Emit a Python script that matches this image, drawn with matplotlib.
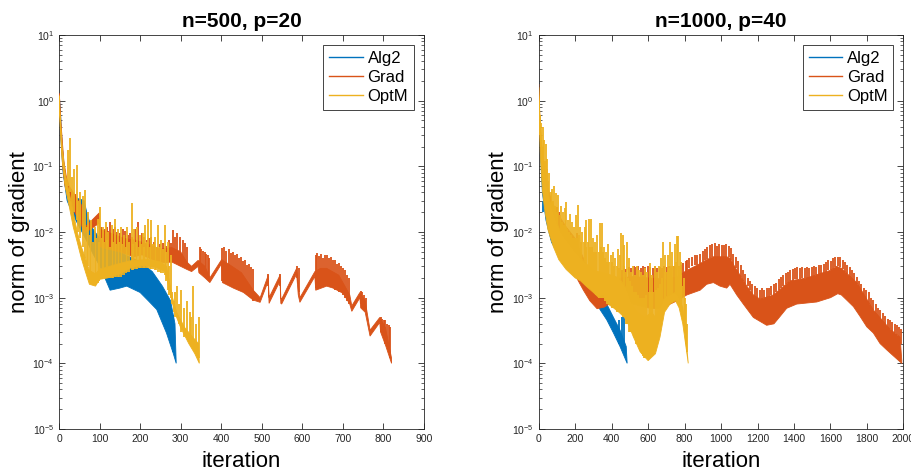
import numpy as np
import matplotlib.pyplot as plt
from matplotlib.lines import Line2D

plt.rcParams['font.family'] = ['Liberation Sans', 'DejaVu Sans']
plt.rcParams['mathtext.fontset'] = 'custom'
plt.rcParams['mathtext.rm'] = 'Liberation Sans'
plt.rcParams['mathtext.it'] = 'Liberation Sans:italic'

COLORS = {'Alg2': '#0072BD', 'Grad': '#D95319', 'OptM': '#EDB120'}
AX_COLOR = '#262626'

methods = ['Alg2', 'Grad', 'OptM']
titles = ['n=500, p=20', 'n=1000, p=40']
x_max = [900, 2000]
x_step = [100, 200]

# Each trace: upper and lower edge of the dense oscillation band as (iteration, value),
# plus the visible spikes as (iteration, low, high).

# ---- n=500, p=20 ----
alg2_a_top = [(0, 1.3), (3, 0.8), (8, 0.2), (15, 0.07), (25, 0.04), (35, 0.033), (50, 0.032),
              (62, 0.03), (70, 0.018), (80, 0.012), (100, 0.008), (120, 0.0062), (160, 0.0046),
              (200, 0.0035), (230, 0.0025), (255, 0.0015), (275, 0.0009), (286, 0.0004), (289, 0.0001)]
alg2_a_bot = [(0, 1.0), (4, 0.3), (10, 0.08), (20, 0.03), (35, 0.018), (50, 0.012), (70, 0.007),
              (85, 0.0045), (101, 0.003), (126, 0.0013), (150, 0.0014), (167, 0.0015), (200, 0.0012),
              (220, 0.0009), (241, 0.00066), (265, 0.00029), (282, 0.00014), (289, 0.0001)]
alg2_a_spk = [(52, 0.02, 0.03), (58, 0.02, 0.029), (64, 0.015, 0.025), (282, 0.00015, 0.00054)]

grad_a_top = [(0, 1.3), (2, 1.0), (5, 0.45), (8, 0.25), (12, 0.12), (18, 0.07), (25, 0.05),
              (35, 0.04), (45, 0.032), (55, 0.026), (60, 0.02), (62, 0.0115), (99, 0.0195),
              (101, 0.011), (130, 0.0095), (160, 0.008), (190, 0.0075), (220, 0.0065), (250, 0.0055),
              (278, 0.0058), (300, 0.005), (315, 0.0035), (327, 0.003), (343, 0.0037), (360, 0.003),
              (372, 0.002), (401, 0.0038), (420, 0.0032), (450, 0.0024), (479, 0.0013), (496, 0.001),
              (516, 0.0022), (518, 0.001), (545, 0.0022), (547, 0.001), (549, 0.00095), (586, 0.0028),
              (594, 0.001), (631, 0.0025), (645, 0.0028), (660, 0.0028), (690, 0.0022), (717, 0.0011),
              (722, 0.00075), (742, 0.0012), (755, 0.0009), (767, 0.00032), (791, 0.0005),
              (805, 0.00035), (820, 0.00012)]
grad_a_bot = [(0, 1.0), (3, 0.5), (6, 0.2), (10, 0.09), (15, 0.05), (25, 0.03), (35, 0.022),
              (45, 0.017), (55, 0.013), (62, 0.0095), (99, 0.0136), (101, 0.006), (120, 0.0055),
              (150, 0.005), (183, 0.0042), (205, 0.0045), (230, 0.0038), (260, 0.0034), (278, 0.0035),
              (300, 0.003), (315, 0.0027), (327, 0.0025), (343, 0.003), (345, 0.0024), (360, 0.002),
              (372, 0.0017), (401, 0.0033), (403, 0.0017), (430, 0.0014), (455, 0.0012), (479, 0.00092),
              (496, 0.00085), (516, 0.0018), (518, 0.00082), (545, 0.0018), (547, 0.00082),
              (549, 0.0008), (586, 0.0023), (590, 0.0011), (594, 0.00085), (631, 0.0021), (633, 0.0013),
              (660, 0.0015), (676, 0.0014), (701, 0.00116), (717, 0.0008), (722, 0.00062), (742, 0.001),
              (744, 0.0007), (755, 0.0006), (767, 0.00026), (791, 0.00042), (793, 0.0003),
              (805, 0.00019), (820, 0.0001)]
grad_a_spk = [(30, 0.025, 0.045), (40, 0.02, 0.038), (52, 0.015, 0.028),
              (104, 0.007, 0.012), (109, 0.007, 0.0105), (114, 0.0065, 0.011), (118, 0.0065, 0.012),
              (122, 0.006, 0.0105), (126, 0.006, 0.014), (132, 0.0058, 0.011), (138, 0.0055, 0.012),
              (144, 0.0053, 0.01), (150, 0.0052, 0.0095), (157, 0.005, 0.011), (163, 0.005, 0.0105),
              (169, 0.0048, 0.009), (175, 0.0045, 0.0095), (181, 0.0044, 0.0085), (187, 0.0043, 0.011),
              (196, 0.0045, 0.014), (204, 0.0045, 0.0095), (210, 0.0044, 0.0085), (216, 0.0042, 0.0075),
              (222, 0.0041, 0.008), (228, 0.004, 0.0085), (235, 0.0038, 0.007), (241, 0.0037, 0.006),
              (249, 0.0036, 0.0065), (257, 0.0035, 0.0067), (264, 0.0035, 0.0062), (270, 0.0036, 0.0075),
              (276, 0.0035, 0.0068), (282, 0.0035, 0.0107), (287, 0.0034, 0.0085), (292, 0.0033, 0.0095),
              (298, 0.003, 0.0085), (305, 0.0029, 0.0075), (311, 0.0028, 0.0067), (316, 0.0027, 0.006),
              (347, 0.0025, 0.0059), (351, 0.0024, 0.0055), (355, 0.0023, 0.0052), (359, 0.0022, 0.005),
              (363, 0.0021, 0.0047), (367, 0.002, 0.0045), (371, 0.0018, 0.004),
              (403, 0.0018, 0.0058), (408, 0.0018, 0.006), (413, 0.0017, 0.0052), (418, 0.0016, 0.0055),
              (423, 0.0015, 0.0048), (428, 0.0015, 0.005), (433, 0.0014, 0.0044), (438, 0.0014, 0.0046),
              (443, 0.0013, 0.004), (448, 0.0013, 0.0042), (453, 0.0012, 0.0036), (458, 0.0012, 0.0038),
              (463, 0.0011, 0.0032), (468, 0.0011, 0.0033), (473, 0.001, 0.0029), (478, 0.0009, 0.0027),
              (516, 0.0015, 0.0023), (545, 0.0015, 0.0023), (586, 0.002, 0.003), (591, 0.0012, 0.0028),
              (633, 0.0014, 0.0044), (637, 0.0014, 0.0048), (641, 0.0014, 0.0043), (645, 0.0015, 0.0046),
              (650, 0.0015, 0.004), (655, 0.0015, 0.0044), (660, 0.0015, 0.0045), (665, 0.0015, 0.004),
              (670, 0.0015, 0.0042), (675, 0.0014, 0.0037), (680, 0.0013, 0.0038), (685, 0.0013, 0.0033),
              (690, 0.0012, 0.0034), (695, 0.0012, 0.003), (700, 0.0011, 0.0028), (705, 0.001, 0.0026),
              (710, 0.0009, 0.0022), (715, 0.0008, 0.002),
              (744, 0.0008, 0.00125), (748, 0.0008, 0.0012), (752, 0.0007, 0.0011), (756, 0.0006, 0.001),
              (793, 0.0003, 0.0005), (797, 0.0003, 0.00048), (801, 0.00025, 0.00046),
              (805, 0.0002, 0.00045), (809, 0.00018, 0.0004), (813, 0.00015, 0.00038),
              (817, 0.00012, 0.00036)]

opt_a_top = [(0, 1.2), (3, 0.6), (8, 0.2), (15, 0.08), (25, 0.04), (35, 0.02), (45, 0.01),
             (55, 0.006), (65, 0.004), (75, 0.0026), (90, 0.0023), (100, 0.0027), (140, 0.0032),
             (180, 0.0037), (220, 0.0038), (250, 0.0035), (265, 0.003), (280, 0.001), (290, 0.0006),
             (310, 0.00035), (330, 0.00025), (344, 0.0002), (346, 0.0001)]
opt_a_bot = [(0, 0.9), (4, 0.3), (8, 0.12), (15, 0.05), (25, 0.025), (35, 0.012), (45, 0.007),
             (55, 0.004), (65, 0.0025), (75, 0.0016), (90, 0.0015), (100, 0.0019), (120, 0.002),
             (150, 0.0023), (180, 0.0029), (210, 0.0031), (240, 0.0029), (262, 0.0025), (275, 0.0011),
             (285, 0.0006), (300, 0.00035), (320, 0.0002), (335, 0.00014), (346, 0.0001)]
opt_a_spk = [(21, 0.05, 0.18), (27, 0.04, 0.27), (32, 0.02, 0.07), (37, 0.02, 0.09), (44, 0.015, 0.105),
             (48, 0.01, 0.03), (52, 0.008, 0.04), (58, 0.006, 0.035), (64, 0.004, 0.043),
             (68, 0.003, 0.012), (72, 0.003, 0.02), (76, 0.0017, 0.009), (80, 0.0016, 0.015),
             (84, 0.0016, 0.007), (88, 0.0016, 0.012), (92, 0.0016, 0.008), (95, 0.0017, 0.016),
             (98, 0.0018, 0.007), (101, 0.0019, 0.024), (105, 0.0019, 0.008), (108, 0.002, 0.012),
             (112, 0.002, 0.007), (115, 0.002, 0.014), (119, 0.002, 0.0075), (122, 0.002, 0.01),
             (126, 0.002, 0.006), (130, 0.002, 0.013), (134, 0.002, 0.007), (137, 0.0021, 0.016),
             (141, 0.0021, 0.0065), (145, 0.0021, 0.011), (149, 0.0021, 0.007), (152, 0.0021, 0.012),
             (156, 0.0022, 0.0065), (160, 0.0022, 0.009), (164, 0.0024, 0.006), (168, 0.0025, 0.012),
             (173, 0.0025, 0.007), (179, 0.0026, 0.028), (183, 0.0026, 0.0065), (186, 0.0027, 0.011),
             (190, 0.0027, 0.007), (193, 0.0027, 0.012), (197, 0.0028, 0.006), (200, 0.0028, 0.009),
             (203, 0.0028, 0.0065), (206, 0.0028, 0.0095), (209, 0.0028, 0.006), (212, 0.0028, 0.013),
             (216, 0.0028, 0.007), (220, 0.0028, 0.016), (224, 0.0027, 0.006), (228, 0.0027, 0.0152),
             (232, 0.0027, 0.0065), (236, 0.0026, 0.0085), (240, 0.0026, 0.006), (245, 0.0025, 0.013),
             (249, 0.0025, 0.006), (252, 0.0024, 0.0075), (256, 0.0024, 0.0055), (261, 0.0022, 0.013),
             (265, 0.0018, 0.005), (268, 0.0013, 0.007), (272, 0.0011, 0.003), (275, 0.001, 0.0045),
             (279, 0.0008, 0.0012), (283, 0.0006, 0.0009), (287, 0.0005, 0.0012), (290, 0.0005, 0.0015),
             (296, 0.0004, 0.0008), (302, 0.0003, 0.0013), (309, 0.00025, 0.0007), (315, 0.00025, 0.0009),
             (322, 0.0002, 0.0006), (326, 0.0002, 0.0005), (331, 0.00018, 0.0015), (338, 0.00015, 0.0004),
             (344, 0.00012, 0.0005)]

# ---- n=1000, p=40 ----
alg2_b_top = [(0, 1.9), (3, 0.9), (8, 0.3), (15, 0.1), (26, 0.04), (50, 0.015), (80, 0.009),
              (120, 0.006), (160, 0.004), (200, 0.003), (250, 0.0025), (300, 0.0018), (336, 0.0012),
              (373, 0.0008), (410, 0.0005), (446, 0.00032), (480, 0.00018), (485, 0.0001)]
alg2_b_bot = [(0, 1.3), (5, 0.4), (10, 0.15), (20, 0.04), (40, 0.015), (70, 0.007), (100, 0.005),
              (150, 0.003), (200, 0.0022), (250, 0.0016), (300, 0.00105), (336, 0.00066),
              (373, 0.00046), (410, 0.00029), (446, 0.00018), (485, 0.0001)]
alg2_b_spk = [(26, 0.02, 0.03), (320, 0.0009, 0.0016), (440, 0.0002, 0.00045),
              (455, 0.0002, 0.0005), (465, 0.0002, 0.00077)]

grad_b_top = [(0, 1.8), (3, 0.9), (10, 0.35), (20, 0.15), (40, 0.06), (70, 0.03), (100, 0.02),
              (150, 0.012), (200, 0.008), (245, 0.004), (280, 0.0022), (320, 0.0013), (360, 0.0015),
              (400, 0.0018), (450, 0.002), (520, 0.0021), (600, 0.002), (700, 0.0019), (760, 0.0021),
              (812, 0.0026), (885, 0.0033), (921, 0.0038), (958, 0.0042), (1031, 0.0042),
              (1049, 0.004), (1068, 0.0032), (1104, 0.0022), (1141, 0.0015), (1177, 0.0011),
              (1214, 0.00095), (1287, 0.0011), (1378, 0.0018), (1470, 0.002), (1598, 0.0026),
              (1634, 0.003), (1660, 0.0028), (1744, 0.0017), (1835, 0.00065), (1927, 0.00033),
              (1982, 0.00025), (1991, 0.00011)]
grad_b_bot = [(0, 1.5), (3, 0.6), (10, 0.2), (20, 0.08), (40, 0.03), (70, 0.012), (100, 0.007),
              (150, 0.004), (200, 0.0022), (245, 0.0013), (280, 0.0009), (320, 0.00068),
              (360, 0.00072), (400, 0.00085), (450, 0.00085), (520, 0.0008), (600, 0.0007),
              (650, 0.00068), (700, 0.00075), (760, 0.0009), (812, 0.0011), (885, 0.0013),
              (921, 0.0016), (958, 0.0017), (994, 0.0015), (1031, 0.0014), (1049, 0.0016),
              (1086, 0.0011), (1122, 0.0008), (1177, 0.0005), (1250, 0.00038), (1290, 0.0004),
              (1324, 0.00052), (1360, 0.00069), (1415, 0.0008), (1525, 0.00086), (1600, 0.001),
              (1640, 0.00115), (1660, 0.0011), (1689, 0.00092), (1726, 0.00073), (1762, 0.00052),
              (1799, 0.00036), (1835, 0.00029), (1872, 0.0002), (1909, 0.00016), (1945, 0.00013),
              (1991, 0.0001)]
grad_b_spk = [(100, 0.008, 0.024), (110, 0.007, 0.02), (208, 0.003, 0.0095), (215, 0.003, 0.008),
              (455, 0.0019, 0.0026), (468, 0.0019, 0.0028), (481, 0.0019, 0.0027), (494, 0.0019, 0.0029),
              (507, 0.002, 0.0028), (520, 0.002, 0.003), (533, 0.002, 0.0029), (546, 0.002, 0.003),
              (559, 0.002, 0.0028), (572, 0.002, 0.003), (585, 0.002, 0.0029), (598, 0.002, 0.003),
              (611, 0.002, 0.0029), (624, 0.0019, 0.0028), (637, 0.0019, 0.003), (650, 0.0019, 0.0028),
              (663, 0.0019, 0.0029), (676, 0.0019, 0.0028), (689, 0.0019, 0.003), (702, 0.0019, 0.0029),
              (715, 0.002, 0.003), (728, 0.002, 0.0028), (741, 0.002, 0.003), (754, 0.002, 0.0029),
              (767, 0.0021, 0.003), (780, 0.0021, 0.0032), (793, 0.0022, 0.0034), (805, 0.0024, 0.0036),
              (812, 0.0026, 0.0038), (826, 0.0028, 0.004), (840, 0.003, 0.0042), (855, 0.0031, 0.0044),
              (870, 0.0032, 0.0045), (885, 0.0033, 0.0047), (899, 0.0035, 0.0052), (912, 0.0037, 0.0056),
              (925, 0.0039, 0.006), (938, 0.004, 0.0064), (951, 0.0041, 0.0066), (964, 0.0042, 0.0068),
              (977, 0.0042, 0.0062), (990, 0.0042, 0.0066), (1003, 0.0042, 0.0064), (1016, 0.0042, 0.0063),
              (1029, 0.0042, 0.0066), (1042, 0.0041, 0.0062), (1055, 0.0038, 0.0058), (1068, 0.0032, 0.0047),
              (1081, 0.0028, 0.0042), (1094, 0.0024, 0.0036), (1107, 0.0021, 0.0031), (1120, 0.0018, 0.0026),
              (1133, 0.0016, 0.0023), (1146, 0.0015, 0.002), (1159, 0.0013, 0.0018), (1172, 0.0011, 0.0016),
              (1185, 0.001, 0.0015), (1198, 0.001, 0.0014), (1211, 0.00095, 0.0013), (1224, 0.00095, 0.0014),
              (1237, 0.001, 0.0013), (1250, 0.001, 0.0014), (1263, 0.001, 0.0014), (1276, 0.0011, 0.0015),
              (1289, 0.0011, 0.0016), (1302, 0.0012, 0.0017), (1315, 0.0013, 0.0019), (1328, 0.0014, 0.0021),
              (1341, 0.0015, 0.0022), (1354, 0.0016, 0.0024), (1367, 0.0017, 0.0025), (1380, 0.0018, 0.0026),
              (1393, 0.0018, 0.0027), (1406, 0.0019, 0.0028), (1419, 0.0019, 0.0029), (1432, 0.0019, 0.0028),
              (1445, 0.002, 0.0029), (1458, 0.002, 0.0028), (1471, 0.002, 0.0029), (1484, 0.002, 0.0028),
              (1497, 0.0021, 0.0029), (1510, 0.0021, 0.003), (1523, 0.0022, 0.0029), (1536, 0.0022, 0.0031),
              (1549, 0.0023, 0.0032), (1562, 0.0024, 0.0033), (1575, 0.0025, 0.0035), (1588, 0.0026, 0.0037),
              (1601, 0.0026, 0.0036), (1614, 0.0027, 0.004), (1627, 0.0029, 0.0042), (1640, 0.003, 0.0041),
              (1653, 0.0029, 0.0042), (1666, 0.0027, 0.0038), (1679, 0.0025, 0.0035), (1692, 0.0023, 0.0032),
              (1705, 0.0021, 0.0029), (1718, 0.0019, 0.0026), (1731, 0.0017, 0.0024), (1744, 0.0016, 0.0021),
              (1757, 0.0014, 0.0018), (1770, 0.0012, 0.0016), (1783, 0.001, 0.0014), (1796, 0.0009, 0.0013),
              (1809, 0.0008, 0.0012), (1822, 0.0007, 0.001), (1835, 0.00065, 0.00092), (1848, 0.00057, 0.0008),
              (1861, 0.0005, 0.0007), (1874, 0.00045, 0.00065), (1887, 0.0004, 0.00058), (1900, 0.00037, 0.00052),
              (1913, 0.00035, 0.00048), (1926, 0.00033, 0.00046), (1939, 0.0003, 0.00042), (1952, 0.00029, 0.0004),
              (1965, 0.00027, 0.00038), (1978, 0.00025, 0.00036), (1988, 0.0002, 0.00033)]

opt_b_top = [(0, 1.6), (3, 1.0), (8, 0.5), (15, 0.25), (25, 0.12), (40, 0.06), (60, 0.03),
             (90, 0.016), (120, 0.01), (160, 0.007), (200, 0.005), (250, 0.0035), (300, 0.0026),
             (350, 0.0024), (400, 0.0022), (440, 0.002), (480, 0.0014), (510, 0.0008), (540, 0.0006),
             (580, 0.0005), (620, 0.0006), (640, 0.0005), (665, 0.0007), (690, 0.001), (720, 0.0011),
             (750, 0.0012), (770, 0.001), (790, 0.0007), (805, 0.0003), (820, 0.0001)]
opt_b_bot = [(0, 1.0), (5, 0.35), (10, 0.13), (20, 0.045), (30, 0.025), (50, 0.011), (80, 0.006),
             (110, 0.0038), (150, 0.0027), (200, 0.002), (230, 0.0018), (260, 0.0015), (300, 0.0012),
             (330, 0.001), (350, 0.0011), (380, 0.0008), (410, 0.0007), (440, 0.0006), (470, 0.0005),
             (490, 0.0004), (520, 0.00025), (556, 0.00015), (600, 0.00011), (640, 0.00014),
             (665, 0.00025), (690, 0.0006), (720, 0.0008), (750, 0.0009), (770, 0.0007), (790, 0.0004),
             (805, 0.0002), (820, 0.0001)]
opt_b_spk = [(8, 0.3, 0.6), (14, 0.2, 0.45), (22, 0.12, 0.4), (26, 0.08, 0.2), (30, 0.08, 0.25),
             (34, 0.05, 0.12), (38, 0.05, 0.22), (43, 0.04, 0.09), (48, 0.03, 0.13), (53, 0.025, 0.06),
             (58, 0.025, 0.08), (65, 0.018, 0.04), (72, 0.015, 0.046), (77, 0.013, 0.03), (82, 0.012, 0.05),
             (88, 0.01, 0.025), (95, 0.009, 0.039), (101, 0.008, 0.02), (108, 0.007, 0.036),
             (114, 0.006, 0.018), (120, 0.006, 0.025), (126, 0.005, 0.014), (132, 0.005, 0.02),
             (138, 0.0045, 0.013), (144, 0.0045, 0.023), (148, 0.004, 0.012), (152, 0.004, 0.029),
             (157, 0.004, 0.011), (162, 0.0035, 0.015), (167, 0.0035, 0.01), (172, 0.0035, 0.019),
             (178, 0.003, 0.009), (185, 0.003, 0.014), (190, 0.003, 0.008), (195, 0.0028, 0.012),
             (200, 0.0027, 0.008), (205, 0.0026, 0.018), (211, 0.0025, 0.008), (218, 0.0025, 0.026),
             (223, 0.0024, 0.009), (228, 0.0023, 0.012), (234, 0.0022, 0.007), (240, 0.0021, 0.01),
             (247, 0.002, 0.007), (254, 0.002, 0.012), (258, 0.0019, 0.006), (262, 0.0018, 0.015),
             (268, 0.0017, 0.007), (275, 0.0016, 0.016), (281, 0.0015, 0.006), (287, 0.0015, 0.016),
             (292, 0.0014, 0.006), (298, 0.0013, 0.008), (304, 0.0012, 0.005), (310, 0.0012, 0.007),
             (316, 0.0011, 0.005), (322, 0.0011, 0.009), (329, 0.001, 0.005), (336, 0.001, 0.0137),
             (340, 0.001, 0.006), (345, 0.001, 0.0137), (350, 0.001, 0.005), (356, 0.001, 0.006),
             (362, 0.0009, 0.004), (368, 0.0009, 0.005), (375, 0.0008, 0.0035), (382, 0.0008, 0.0066),
             (388, 0.0008, 0.0035), (395, 0.0008, 0.0045), (402, 0.0007, 0.0035), (408, 0.0007, 0.005),
             (414, 0.0007, 0.003), (420, 0.0007, 0.004), (427, 0.0006, 0.003), (433, 0.0006, 0.0055),
             (438, 0.0006, 0.0028), (444, 0.0006, 0.0045), (451, 0.0006, 0.0095), (460, 0.0005, 0.0089),
             (465, 0.0005, 0.003), (470, 0.0005, 0.0063), (477, 0.0004, 0.0025), (483, 0.0004, 0.007),
             (489, 0.0004, 0.002), (495, 0.0003, 0.004), (500, 0.0003, 0.0018), (505, 0.0003, 0.0025),
             (510, 0.0003, 0.0015), (515, 0.0003, 0.003), (520, 0.00025, 0.0012), (526, 0.00025, 0.0022),
             (531, 0.0002, 0.0012), (537, 0.0002, 0.003), (542, 0.0002, 0.0011), (548, 0.00018, 0.0026),
             (554, 0.00016, 0.001), (560, 0.00015, 0.0025), (566, 0.00014, 0.001), (571, 0.00013, 0.0022),
             (577, 0.00012, 0.001), (582, 0.00012, 0.0028), (589, 0.00012, 0.0011), (595, 0.00012, 0.0025),
             (603, 0.00012, 0.0012), (611, 0.00012, 0.0034), (617, 0.00013, 0.0012), (622, 0.00014, 0.0022),
             (628, 0.00017, 0.0012), (635, 0.0002, 0.003), (641, 0.00025, 0.0013), (648, 0.0003, 0.0025),
             (654, 0.00035, 0.0014), (660, 0.0004, 0.003), (666, 0.00045, 0.0016), (672, 0.0005, 0.004),
             (678, 0.0006, 0.002), (684, 0.0008, 0.007), (690, 0.0008, 0.0025), (695, 0.0009, 0.0045),
             (701, 0.001, 0.0025), (708, 0.001, 0.0045), (714, 0.001, 0.0028), (720, 0.001, 0.007),
             (726, 0.001, 0.003), (732, 0.001, 0.005), (739, 0.001, 0.003), (745, 0.001, 0.0065),
             (751, 0.001, 0.0035), (757, 0.001, 0.0087), (765, 0.0009, 0.0088), (769, 0.0008, 0.003),
             (773, 0.0008, 0.005), (778, 0.0007, 0.0022), (782, 0.0006, 0.0035), (788, 0.0005, 0.0015),
             (795, 0.0004, 0.002), (801, 0.0003, 0.001), (808, 0.0002, 0.0008), (815, 0.00015, 0.0004)]

panels = [
    {'Alg2': (alg2_a_top, alg2_a_bot, alg2_a_spk),
     'Grad': (grad_a_top, grad_a_bot, grad_a_spk),
     'OptM': (opt_a_top, opt_a_bot, opt_a_spk)},
    {'Alg2': (alg2_b_top, alg2_b_bot, alg2_b_spk),
     'Grad': (grad_b_top, grad_b_bot, grad_b_spk),
     'OptM': (opt_b_top, opt_b_bot, opt_b_spk)},
]


def draw_trace(ax, top, bot, spikes, color, z):
    tx, ty = zip(*top)
    bx, by = zip(*bot)
    ax.fill(list(tx) + list(bx[::-1]), list(ty) + list(by[::-1]),
            color=color, lw=0.6, zorder=z)
    sx, slo, shi = zip(*spikes)
    ax.vlines(sx, slo, shi, color=color, lw=1.3, zorder=z)


fig = plt.figure(figsize=(9.12, 4.74), dpi=100)
positions = [[0.0647, 0.0949, 0.4002, 0.8312], [0.5907, 0.0949, 0.3999, 0.8312]]

for i, data in enumerate(panels):
    ax = fig.add_axes(positions[i])
    for z, m in enumerate(methods, start=2):
        top, bot, spk = data[m]
        draw_trace(ax, top, bot, spk, COLORS[m], z)

    ax.set_yscale('log')
    ax.set_ylim(1e-5, 1e1)
    ax.set_xlim(0, x_max[i])
    ax.set_xticks(np.arange(0, x_max[i] + 1, x_step[i]))
    ax.tick_params(which='both', direction='in', top=True, right=True,
                   labelsize=7.5, colors=AX_COLOR)
    ax.tick_params(which='major', length=4, width=0.6)
    ax.tick_params(which='minor', length=2, width=0.5)
    for s in ax.spines.values():
        s.set_linewidth(0.6)
        s.set_color(AX_COLOR)

    ax.set_title(titles[i], fontsize=15, fontweight='bold', pad=6)
    ax.set_xlabel('iteration', fontsize=16, labelpad=5)
    ax.set_ylabel('norm of gradient', fontsize=16, labelpad=2)

    handles = [Line2D([], [], color=COLORS[m], lw=1.0) for m in methods]
    leg = ax.legend(handles, methods, loc='upper right', fontsize=12, frameon=True,
                    fancybox=False, edgecolor=AX_COLOR, framealpha=1,
                    borderaxespad=0.6, handlelength=2.0, handletextpad=0.3,
                    labelspacing=0.25, borderpad=0.35)
    leg.get_frame().set_linewidth(0.6)

fig.savefig('out.png', dpi=100)
